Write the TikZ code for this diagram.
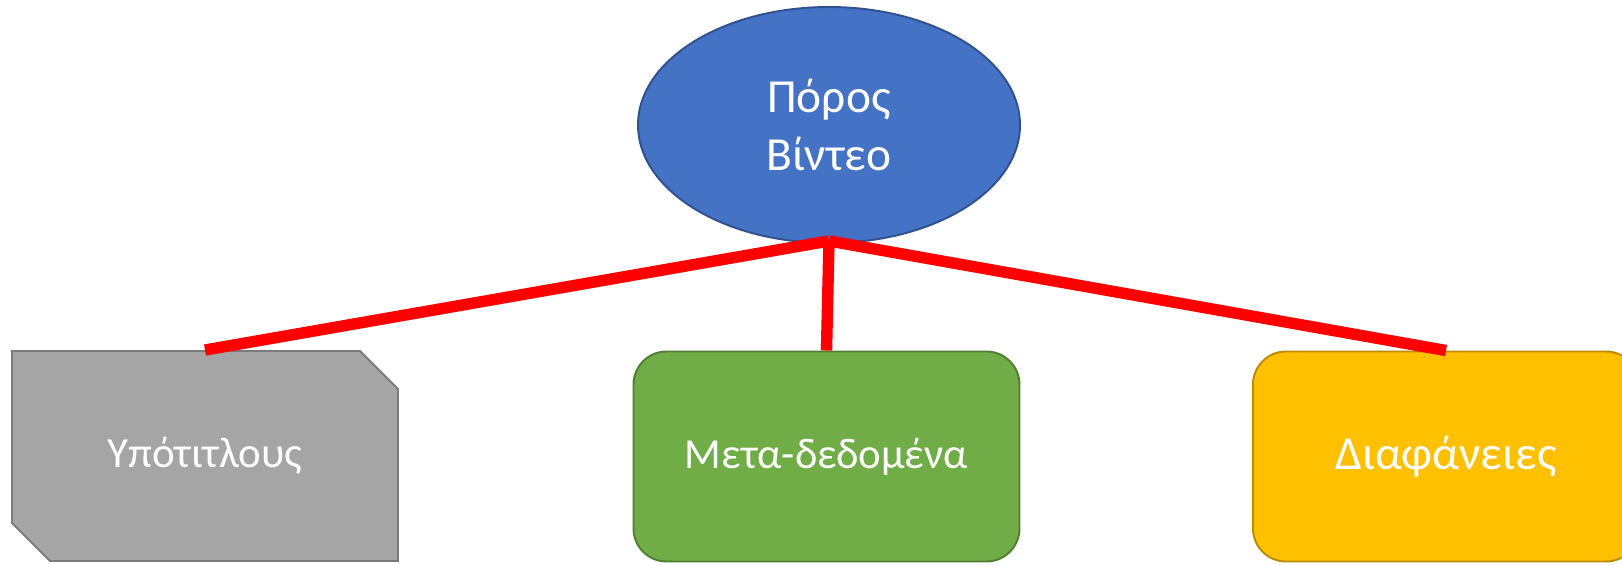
\documentclass[tikz,border=0pt]{standalone}
\usepackage{xcolor}
\usepackage{fontspec}
\setmainfont{Carlito}
\usepackage{tikz}
\usetikzlibrary{positioning,calc,shapes.geometric,shapes.misc}

\definecolor{vidblue}{HTML}{4472C4}
\definecolor{vidblueb}{HTML}{2F528F}
\definecolor{subgrey}{HTML}{A5A5A5}
\definecolor{subgreyb}{HTML}{7B7B7B}
\definecolor{metagreen}{HTML}{70AD47}
\definecolor{metagreenb}{HTML}{507E32}
\definecolor{slideyel}{HTML}{FFC000}
\definecolor{slideyelb}{HTML}{BC8C00}

\tikzset{
	hub/.style={ellipse,draw=vidblueb,fill=vidblue,line width=1.1pt,
		minimum width=7.64cm,minimum height=4.72cm,inner sep=0pt,
		text=white,align=center,font=\fontsize{27}{33}\selectfont},
	leaf/.style={line width=1.1pt,minimum width=7.72cm,minimum height=4.2cm,
		inner sep=0pt,text=white,font=\fontsize{24.4}{30}\selectfont},
	link/.style={red,line width=6.5pt}
}

\begin{document}
\begin{tikzpicture}
		\useasboundingbox (0,0) rectangle (32.44,11.28);
		\clip (0,0) rectangle (32.44,11.28);
		\node[hub] (vid) at (16.58,8.78) {Πόρος\\Βίντεο};
		\node[leaf,chamfered rectangle,chamfered rectangle corners={north east,south west},
			chamfered rectangle xsep=0.39cm,chamfered rectangle ysep=0.39cm,
			draw=subgreyb,fill=subgrey,font=\fontsize{24.5}{30}\selectfont] (sub) at (4.10,2.16) {Υπότιτλους};
		\node[leaf,rounded corners=0.66cm,draw=metagreenb,fill=metagreen] (meta) at (16.53,2.15) {Μετα-δεδομένα};
		\node[leaf,rounded corners=0.66cm,draw=slideyelb,fill=slideyel,
			font=\fontsize{27}{32}\selectfont] (slide) at (28.92,2.15) {Διαφάνειες};
		\coordinate (hubpt) at ($(vid.south)+(0,0.06)$);
		\draw[link] (hubpt) -- (sub.north);
		\draw[link] (hubpt) -- (meta.north);
		\draw[link] (hubpt) -- (slide.north);
	\end{tikzpicture}
\end{document}
